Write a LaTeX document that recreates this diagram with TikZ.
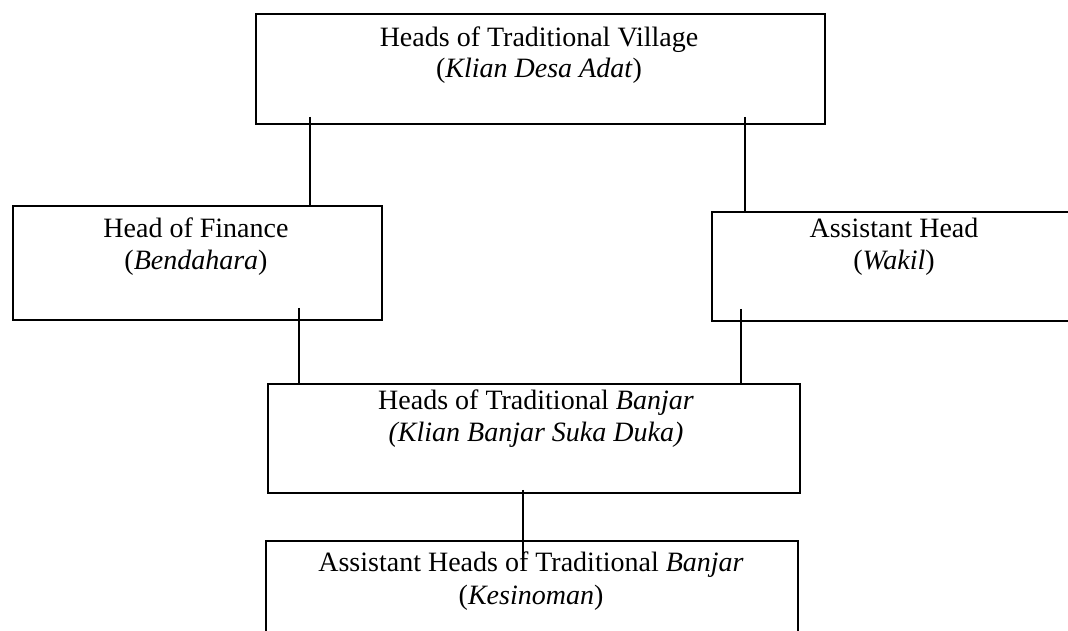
\documentclass[tikz,border=0pt]{standalone}
\usepackage{fontspec}
\setmainfont{Liberation Serif}
\begin{document}
\begin{tikzpicture}[x=1pt,y=-1pt,
  box/.style={draw=black, line width=1.8pt, rectangle, inner sep=0pt, anchor=north west},
  txt/.style={anchor=base, inner sep=0pt, font=\fontsize{28}{32}\selectfont},
  link/.style={draw=black, line width=1.8pt}]
\useasboundingbox (0,0) rectangle (1068,630);
\clip (0,0) rectangle (1068,630);

% boxes of the organisation chart
\node[box, minimum width=569pt, minimum height=110pt] (top)    at (255,13)  {};
\node[box, minimum width=369pt, minimum height=114pt] (fin)    at (12,205)  {};
\node[box, minimum width=369pt, minimum height=109pt] (wakil)  at (711,211) {};
\node[box, minimum width=532pt, minimum height=109pt] (banjar) at (267,383) {};
\node[box, minimum width=532pt, minimum height=120pt] (kesin)  at (265,540) {};

% captions
\node[txt] (topA) at (539,46)  {Heads of Traditional Village};
\node[txt] (topB) at (539,77)  {(\textit{Klian Desa Adat})};
\node[txt] (finA) at (196,237) {Head of Finance};
\node[txt] (finB) at (196,269) {(\textit{Bendahara})};
\node[txt] (wakA) at (894,237) {Assistant Head};
\node[txt] (wakB) at (894,269) {(\textit{Wakil})};
\node[txt] (banA) at (536,409) {Heads of Traditional \textit{Banjar}};
\node[txt] (banB) at (536,441) {\textit{(Klian Banjar Suka Duka)}};
\node[txt] (kesA) at (531,571) {Assistant Heads of Traditional \textit{Banjar}};
\node[txt] (kesB) at (531,604) {(\textit{Kesinoman})};

% connectors
\draw[link] ([xshift=55pt,yshift=8pt]top.south west) -- ([xshift=55pt]top.south west |- fin.north);
\draw[link] ([xshift=490pt,yshift=8pt]top.south west) -- ([xshift=490pt]top.south west |- wakil.north);
\draw[link] ([xshift=287pt,yshift=13pt]fin.south west) -- ([xshift=287pt]fin.south west |- banjar.north);
\draw[link] ([xshift=30pt,yshift=13pt]wakil.south west) -- ([xshift=30pt]wakil.south west |- banjar.north);
\draw[link] ([xshift=256pt,yshift=4pt]banjar.south west) -- ([xshift=256pt,yshift=-28pt]banjar.south west |- kesin.north);
\end{tikzpicture}
\end{document}
